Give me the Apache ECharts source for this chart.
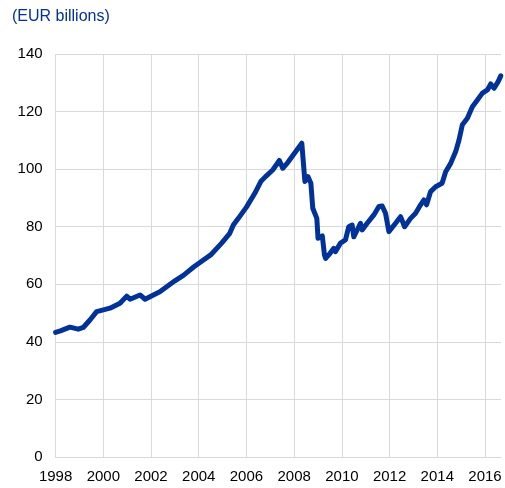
<!DOCTYPE html>
<html>
<head>
<meta charset="utf-8">
<script src="https://cdn.jsdelivr.net/npm/echarts@6/dist/echarts.min.js"></script>
<style>
  html, body { margin: 0; padding: 0; background: #fff; }
  #chart { width: 505px; height: 488px; }
</style>
</head>
<body>
<div id="chart"></div>
<script>
// time points (decimal years) and values
var years = [
    1998.0, 1998.2, 1998.6, 1998.95, 1999.16, 1999.44, 1999.72, 2000.0, 2000.28, 2000.7,
    2000.98, 2001.12, 2001.54, 2001.75, 2002.1, 2002.37, 2003.0, 2003.37, 2003.8, 2004.05,
    2004.5, 2004.96, 2005.3, 2005.45, 2005.66, 2006.0, 2006.35, 2006.6, 2006.8, 2007.1,
    2007.38, 2007.52, 2007.73, 2008.32, 2008.45, 2008.58, 2008.7, 2008.78, 2008.95, 2009.0,
    2009.18, 2009.27, 2009.32, 2009.45, 2009.66, 2009.73, 2009.94, 2010.15, 2010.29, 2010.43,
    2010.5, 2010.78, 2010.85, 2011.06, 2011.34, 2011.55, 2011.69, 2011.83, 2011.97, 2012.25,
    2012.46, 2012.63, 2012.88, 2013.09, 2013.3, 2013.44, 2013.55, 2013.72, 2013.93, 2014.2,
    2014.35, 2014.56, 2014.77, 2014.91, 2015.05, 2015.26, 2015.47, 2015.68, 2015.89, 2016.1,
    2016.24, 2016.38, 2016.55, 2016.66
];
var values = [
    43.3, 43.8, 45.1, 44.4, 45.0, 47.6, 50.5, 51.1, 51.7, 53.4,
    55.9, 54.8, 56.3, 54.8, 56.3, 57.4, 61.2, 63.2, 66.1, 67.6,
    70.2, 74.3, 77.7, 80.6, 82.9, 86.8, 91.6, 95.7, 97.4, 99.7,
    103.0, 100.3, 102.3, 109.0, 95.7, 97.4, 95.1, 86.4, 82.9, 76.0,
    76.8, 70.2, 69.0, 70.2, 72.5, 71.3, 74.3, 75.4, 80.0, 80.6,
    76.5, 81.2, 78.9, 81.2, 84.1, 87.0, 87.2, 84.7, 78.3, 81.2,
    83.5, 80.0, 82.9, 84.7, 87.6, 89.3, 87.6, 92.2, 93.9, 95.1,
    99.1, 102.0, 106.1, 110.1, 115.4, 117.7, 121.7, 124.0, 126.4, 127.5,
    129.6, 128.1, 130.4, 132.4
];
var xMin = 1998, xMax = 2016.67, xStep = 2;
var yMin = 0, yMax = 140, yStep = 20;

var seriesData = [];
for (var i = 0; i < years.length; i++) {
    seriesData.push([years[i], values[i]]);
}

// one colour per vertical grid line, the last (at the axis end) hidden
var vLineColors = [];
for (var t = xMin; t <= xMax; t += xStep) vLineColors.push('#d9d9d9');
vLineColors.push('rgba(0,0,0,0)');

var chart = echarts.init(document.getElementById('chart'));
chart.setOption({
    animation: false,
    title: {
        text: '(EUR billions)',
        left: 7,
        top: 4,
        textStyle: { color: '#003299', fontSize: 16, fontWeight: 'normal', fontFamily: 'Liberation Sans, Arial' }
    },
    grid: { left: 55.6, right: 4, top: 54, bottom: 31 },
    xAxis: {
        type: 'value',
        min: xMin,
        max: xMax,
        interval: xStep,
        axisLine: { show: true, lineStyle: { color: '#d9d9d9', width: 1 } },
        axisTick: { show: false },
        splitLine: { show: true, lineStyle: { color: vLineColors, width: 1 } },
        axisLabel: {
            color: '#000',
            fontSize: 15,
            fontFamily: 'Liberation Sans, Arial',
            margin: 12,
            formatter: function (v) { return v % 2 === 0 ? String(v) : ''; }
        }
    },
    yAxis: {
        type: 'value',
        min: yMin,
        max: yMax,
        interval: yStep,
        axisLine: { show: false },
        axisTick: { show: false },
        splitLine: { show: true, lineStyle: { color: '#d9d9d9', width: 1 } },
        axisLabel: { color: '#000', fontSize: 15, fontFamily: 'Liberation Sans, Arial', margin: 13 }
    },
    series: [{
        type: 'line',
        data: seriesData,
        showSymbol: false,
        lineStyle: { color: '#003299', width: 5, join: 'round', cap: 'round' }
    }]
});
</script>
</body>
</html>
